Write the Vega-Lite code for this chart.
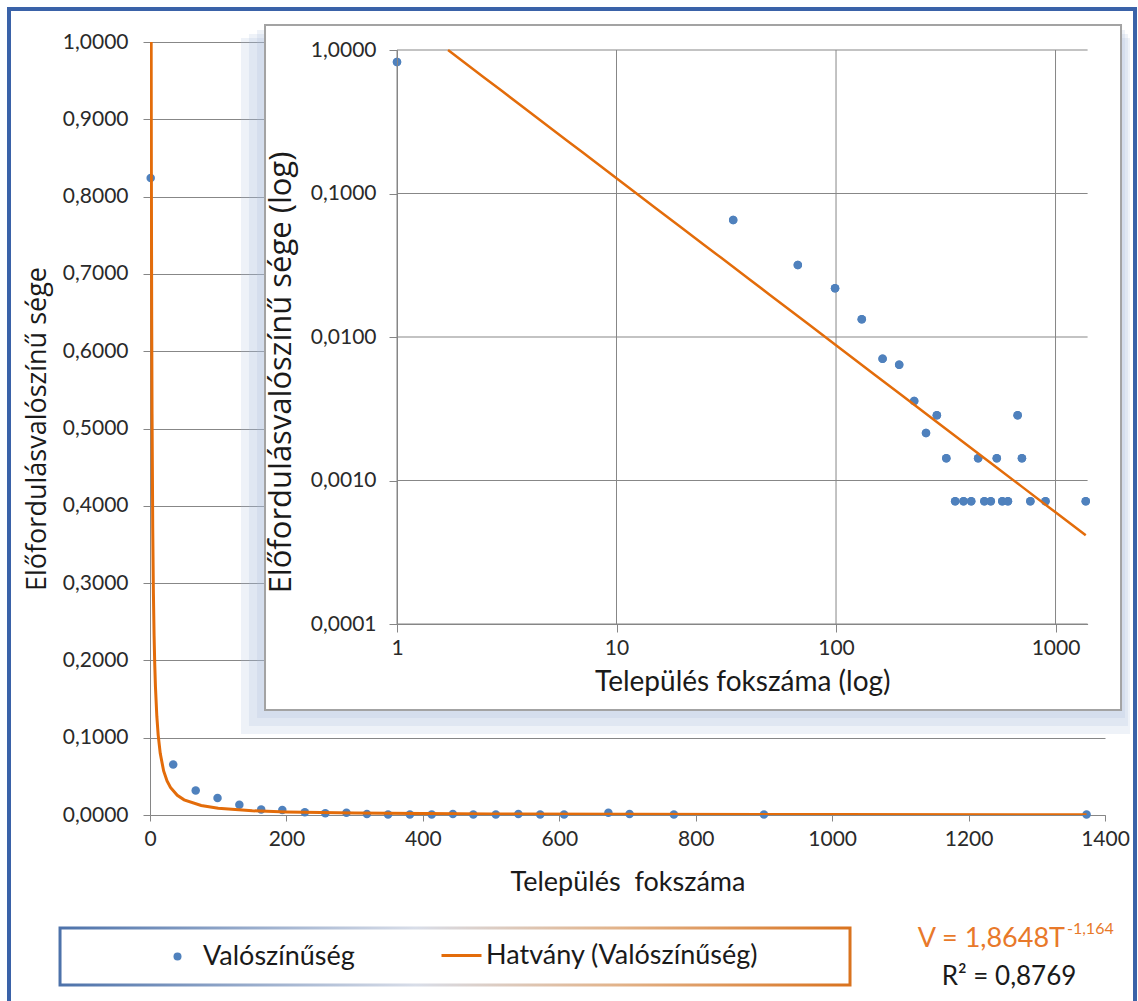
{
  "$schema": "https://vega.github.io/schema/vega-lite/v6.json",
  "width": 955,
  "height": 773,
  "autosize": {"type": "none"},
  "padding": {"left": 150, "top": 42, "right": 33, "bottom": 186},
  "background": "#ffffff",
  "config": {
    "font": "Lato",
    "view": {"stroke": null},
    "locale": {"number": {"decimal": ",", "thousands": " ", "grouping": [3], "currency": ["", ""]}},
    "axis": {"labelFlush": false, "labelOverlap": false, "labelFont": "Lato", "titleFont": "Lato", "labelColor": "#2a2a2a", "titleColor": "#1a1a1a", "titleFontWeight": "normal", "domainColor": "#868686", "tickColor": "#868686", "gridColor": "#878787"},
    "legend": {"labelFont": "Lato", "labelColor": "#1a1a1a", "labelLimit": 500}
  },
  "datasets": {
    "pts": [
      {"deg": 1, "p": 0.824, "series": "Valószínűség"},
      {"deg": 34, "p": 0.0654, "series": "Valószínűség"},
      {"deg": 67, "p": 0.0318, "series": "Valószínűség"},
      {"deg": 99, "p": 0.0219, "series": "Valószínűség"},
      {"deg": 131, "p": 0.0133, "series": "Valószínűség"},
      {"deg": 163, "p": 0.00706, "series": "Valószínűség"},
      {"deg": 194, "p": 0.0064, "series": "Valószínűség"},
      {"deg": 227, "p": 0.00358, "series": "Valószínűség"},
      {"deg": 257, "p": 0.00214, "series": "Valószínűség"},
      {"deg": 288, "p": 0.00285, "series": "Valószínűség"},
      {"deg": 318, "p": 0.00143, "series": "Valószínűség"},
      {"deg": 349, "p": 0.000716, "series": "Valószínűség"},
      {"deg": 381, "p": 0.000716, "series": "Valószínűség"},
      {"deg": 413, "p": 0.000716, "series": "Valószínűség"},
      {"deg": 444, "p": 0.00143, "series": "Valószínűség"},
      {"deg": 474, "p": 0.000716, "series": "Valószínűség"},
      {"deg": 507, "p": 0.000716, "series": "Valószínűség"},
      {"deg": 540, "p": 0.00143, "series": "Valószínűség"},
      {"deg": 572, "p": 0.000716, "series": "Valószínűség"},
      {"deg": 607, "p": 0.000716, "series": "Valószínűség"},
      {"deg": 672, "p": 0.00285, "series": "Valószínűség"},
      {"deg": 703, "p": 0.00143, "series": "Valószínűség"},
      {"deg": 768, "p": 0.000716, "series": "Valószínűség"},
      {"deg": 900, "p": 0.000716, "series": "Valószínűség"},
      {"deg": 1373, "p": 0.000716, "series": "Valószínűség"}
    ],
    "trend": [
      {"deg": 1.708, "p": 1.0, "series": "Hatvány (Valószínűség)"},
      {"deg": 2, "p": 0.8323, "series": "Hatvány (Valószínűség)"},
      {"deg": 2.5, "p": 0.6418, "series": "Hatvány (Valószínűség)"},
      {"deg": 3, "p": 0.5192, "series": "Hatvány (Valószínűség)"},
      {"deg": 4, "p": 0.3714, "series": "Hatvány (Valószínűség)"},
      {"deg": 5, "p": 0.2865, "series": "Hatvány (Valószínűség)"},
      {"deg": 6, "p": 0.2317, "series": "Hatvány (Valószínűség)"},
      {"deg": 7, "p": 0.1936, "series": "Hatvány (Valószínűség)"},
      {"deg": 8, "p": 0.1657, "series": "Hatvány (Valószínűség)"},
      {"deg": 10, "p": 0.1278, "series": "Hatvány (Valószínűség)"},
      {"deg": 12, "p": 0.1034, "series": "Hatvány (Valószínűség)"},
      {"deg": 15, "p": 0.0797, "series": "Hatvány (Valószínűség)"},
      {"deg": 20, "p": 0.057, "series": "Hatvány (Valószínűség)"},
      {"deg": 25, "p": 0.04399, "series": "Hatvány (Valószínűség)"},
      {"deg": 30, "p": 0.0356, "series": "Hatvány (Valószínűség)"},
      {"deg": 40, "p": 0.02546, "series": "Hatvány (Valószínűség)"},
      {"deg": 50, "p": 0.01964, "series": "Hatvány (Valószínűség)"},
      {"deg": 75, "p": 0.01225, "series": "Hatvány (Valószínűség)"},
      {"deg": 100, "p": 0.00877, "series": "Hatvány (Valószínűség)"},
      {"deg": 150, "p": 0.005467, "series": "Hatvány (Valószínűség)"},
      {"deg": 200, "p": 0.003912, "series": "Hatvány (Valószínűség)"},
      {"deg": 300, "p": 0.002439, "series": "Hatvány (Valószínűség)"},
      {"deg": 500, "p": 0.001346, "series": "Hatvány (Valószínűség)"},
      {"deg": 700, "p": 0.00091, "series": "Hatvány (Valószínűség)"},
      {"deg": 1000, "p": 0.0006, "series": "Hatvány (Valószínűség)"},
      {"deg": 1373, "p": 0.000415, "series": "Hatvány (Valószínűség)"}
    ],
    "gridx": [{"g": 1}, {"g": 10}, {"g": 100}, {"g": 1000}],
    "gridy": [{"g": 0.0001}, {"g": 0.001}, {"g": 0.01}, {"g": 0.1}, {"g": 1}],
    "one": [{"k": 1}]
  },
  "layer": [
    {
      "layer": [
        {
          "data": {"name": "one"},
          "mark": {"type": "rect", "filled": false, "stroke": "#3a62a8", "strokeWidth": 4},
          "encoding": {
            "x": {"datum": -206.7, "type": "quantitative", "scale": {"domain": [0, 1400], "nice": false, "zero": false}},
            "x2": {"datum": 1444},
            "y": {"datum": 1.0427, "type": "quantitative", "scale": {"domain": [0, 1], "nice": false, "zero": false}},
            "y2": {"datum": -0.2523}
          }
        },
        {
          "data": {"name": "pts"},
          "mark": {"type": "point", "filled": true, "size": 72, "opacity": 1, "strokeWidth": 0},
          "encoding": {
            "x": {"field": "deg", "type": "quantitative", "scale": {"domain": [0, 1400], "nice": false, "zero": false},
              "axis": {"orient": "bottom", "values": [0, 200, 400, 600, 800, 1000, 1200, 1400], "format": "d", "grid": false, "tickSize": 6, "labelFontSize": 21, "labelPadding": 7, "title": "Település \u00a0fokszáma", "titleFontSize": 27, "titlePadding": 20}},
            "y": {"field": "p", "type": "quantitative", "scale": {"domain": [0, 1], "nice": false, "zero": false},
              "axis": {"orient": "left", "values": [0, 0.1, 0.2, 0.3, 0.4, 0.5, 0.6, 0.7, 0.8, 0.9, 1], "format": ".4f", "grid": true, "tickSize": 7, "labelFontSize": 21, "labelPadding": 15, "title": "Előfordulásvalószínű sége", "titleFont": "Open Sans", "titleFontSize": 27, "titlePadding": 11}},
            "fill": {"field": "series", "type": "nominal", "scale": {"domain": ["Valószínűség"], "range": ["#4F81BD"]},
              "legend": {"orient": "none", "legendX": 14, "legendY": 901, "title": null, "symbolType": "circle", "symbolSize": 64, "labelFontSize": 27, "labelOffset": 12}}
          }
        },
        {
          "data": {"name": "trend"},
          "mark": {"type": "line", "strokeWidth": 3, "clip": true},
          "encoding": {
            "x": {"field": "deg", "type": "quantitative", "scale": {"domain": [0, 1400], "nice": false, "zero": false}},
            "y": {"field": "p", "type": "quantitative", "scale": {"domain": [0, 1], "nice": false, "zero": false}},
            "stroke": {"field": "series", "type": "nominal", "scale": {"domain": ["Hatvány (Valószínűség)"], "range": ["#E36C0A"]},
              "legend": {"orient": "none", "legendX": 290, "legendY": 892, "title": null, "symbolType": "stroke", "symbolSize": 1600, "symbolStrokeWidth": 3, "labelFontSize": 27, "labelOffset": 3}}
          }
        },
        {
          "data": {"name": "one"},
          "mark": {"type": "rect", "fill": "#a9bddc", "opacity": 0.2},
          "encoding": {
            "x": {"datum": 133.4, "type": "quantitative", "scale": {"domain": [0, 1400], "nice": false, "zero": false}},
            "x2": {"datum": 1436.6},
            "y": {"datum": 1.0052, "type": "quantitative", "scale": {"domain": [0, 1], "nice": false, "zero": false}},
            "y2": {"datum": 0.1048}
          }
        },
        {
          "data": {"name": "one"},
          "mark": {"type": "rect", "fill": "#a9bddc", "opacity": 0.2},
          "encoding": {
            "x": {"datum": 145.1, "type": "quantitative", "scale": {"domain": [0, 1400], "nice": false, "zero": false}},
            "x2": {"datum": 1433.7},
            "y": {"datum": 1.0103, "type": "quantitative", "scale": {"domain": [0, 1], "nice": false, "zero": false}},
            "y2": {"datum": 0.1151}
          }
        },
        {
          "data": {"name": "one"},
          "mark": {"type": "rect", "fill": "#a9bddc", "opacity": 0.2},
          "encoding": {
            "x": {"datum": 156.9, "type": "quantitative", "scale": {"domain": [0, 1400], "nice": false, "zero": false}},
            "x2": {"datum": 1429.3},
            "y": {"datum": 1.0155, "type": "quantitative", "scale": {"domain": [0, 1], "nice": false, "zero": false}},
            "y2": {"datum": 0.1255}
          }
        },
        {
          "data": {"name": "one"},
          "mark": {"type": "rect", "fill": "#ffffff", "stroke": "#a3a3a3", "strokeWidth": 2},
          "encoding": {
            "x": {"datum": 168.6, "type": "quantitative", "scale": {"domain": [0, 1400], "nice": false, "zero": false}},
            "x2": {"datum": 1423.5},
            "y": {"datum": 1.022, "type": "quantitative", "scale": {"domain": [0, 1], "nice": false, "zero": false}},
            "y2": {"datum": 0.1358}
          }
        },
        {
          "data": {"name": "one"},
          "mark": {"type": "rect", "fill": "#ffffff", "strokeWidth": 3,
            "stroke": {"gradient": "linear", "x1": 0, "y1": 0, "x2": 1, "y2": 0, "stops": [{"offset": 0, "color": "#4d72aa"}, {"offset": 0.45, "color": "#d8dde8"}, {"offset": 0.7, "color": "#e2b48c"}, {"offset": 1, "color": "#d9731f"}]}},
          "encoding": {
            "x": {"datum": -131.9, "type": "quantitative", "scale": {"domain": [0, 1400], "nice": false, "zero": false}},
            "x2": {"datum": 1026.2},
            "y": {"datum": -0.1462, "type": "quantitative", "scale": {"domain": [0, 1], "nice": false, "zero": false}},
            "y2": {"datum": -0.2199}
          }
        },
        {
          "data": {"name": "one"},
          "mark": {"type": "text", "text": "V = 1,8648T", "align": "right", "baseline": "alphabetic", "fontSize": 27, "color": "#E8792A"},
          "encoding": {
            "x": {"datum": 1341.4, "type": "quantitative", "scale": {"domain": [0, 1400], "nice": false, "zero": false}},
            "y": {"datum": -0.1708, "type": "quantitative", "scale": {"domain": [0, 1], "nice": false, "zero": false}}
          }
        },
        {
          "data": {"name": "one"},
          "mark": {"type": "text", "text": "-1,164", "align": "left", "baseline": "alphabetic", "fontSize": 16, "color": "#E8792A"},
          "encoding": {
            "x": {"datum": 1344.3, "type": "quantitative", "scale": {"domain": [0, 1400], "nice": false, "zero": false}},
            "y": {"datum": -0.154, "type": "quantitative", "scale": {"domain": [0, 1], "nice": false, "zero": false}}
          }
        },
        {
          "data": {"name": "one"},
          "mark": {"type": "text", "text": "R² = 0,8769", "align": "center", "baseline": "alphabetic", "fontSize": 26, "color": "#1a1a1a"},
          "encoding": {
            "x": {"datum": 1259.3, "type": "quantitative", "scale": {"domain": [0, 1400], "nice": false, "zero": false}},
            "y": {"datum": -0.2199, "type": "quantitative", "scale": {"domain": [0, 1], "nice": false, "zero": false}}
          }
        }
      ]
    },
    {
      "layer": [
        {
          "data": {"name": "pts"},
          "mark": {"type": "point", "filled": true, "size": 72, "opacity": 1, "strokeWidth": 0, "color": "#4F81BD"},
          "encoding": {
            "x": {"field": "deg", "type": "quantitative", "scale": {"type": "log", "domain": [1, 1400], "range": [247, 937.6], "nice": false, "zero": false},
              "axis": {"orient": "bottom", "offset": -191, "values": [1, 10, 100, 1000], "format": "d", "grid": false, "tickSize": 8, "labelFontSize": 21, "labelPadding": 5, "title": "Település fokszáma (log)", "titleFontSize": 28, "titlePadding": 10, "zindex": 1}},
            "y": {"field": "p", "type": "quantitative", "scale": {"type": "log", "domain": [0.0001, 1], "range": [582, 8], "nice": false, "zero": false},
              "axis": {"orient": "left", "offset": -247, "values": [0.0001, 0.001, 0.01, 0.1, 1], "format": ".4f", "grid": false, "tickSize": 8, "labelFontSize": 21, "labelPadding": 13, "title": "Előfordulásvalószínű sége (log)", "titleFont": "Open Sans", "titleFontSize": 31, "titlePadding": 13, "titleY": 330, "zindex": 1}}
          }
        },
        {
          "data": {"name": "gridx"},
          "mark": {"type": "rule", "color": "#878787", "strokeWidth": 1},
          "encoding": {
            "x": {"field": "g", "type": "quantitative", "scale": {"type": "log", "domain": [1, 1400], "range": [247, 937.6], "nice": false, "zero": false}},
            "y": {"datum": 0.0001, "type": "quantitative", "scale": {"type": "log", "domain": [0.0001, 1], "range": [582, 8], "nice": false, "zero": false}},
            "y2": {"datum": 1}
          }
        },
        {
          "data": {"name": "gridy"},
          "mark": {"type": "rule", "color": "#878787", "strokeWidth": 1},
          "encoding": {
            "y": {"field": "g", "type": "quantitative", "scale": {"type": "log", "domain": [0.0001, 1], "range": [582, 8], "nice": false, "zero": false}},
            "x": {"datum": 1, "type": "quantitative", "scale": {"type": "log", "domain": [1, 1400], "range": [247, 937.6], "nice": false, "zero": false}},
            "x2": {"datum": 1400}
          }
        },
        {
          "data": {"name": "pts"},
          "mark": {"type": "point", "filled": true, "size": 72, "opacity": 1, "strokeWidth": 0, "color": "#4F81BD"},
          "encoding": {
            "x": {"field": "deg", "type": "quantitative", "scale": {"type": "log", "domain": [1, 1400], "range": [247, 937.6], "nice": false, "zero": false}},
            "y": {"field": "p", "type": "quantitative", "scale": {"type": "log", "domain": [0.0001, 1], "range": [582, 8], "nice": false, "zero": false}}
          }
        },
        {
          "data": {"name": "trend"},
          "mark": {"type": "line", "strokeWidth": 2.5, "color": "#E36C0A"},
          "encoding": {
            "x": {"field": "deg", "type": "quantitative", "scale": {"type": "log", "domain": [1, 1400], "range": [247, 937.6], "nice": false, "zero": false}},
            "y": {"field": "p", "type": "quantitative", "scale": {"type": "log", "domain": [0.0001, 1], "range": [582, 8], "nice": false, "zero": false}}
          }
        }
      ]
    }
  ],
  "resolve": {"scale": {"x": "independent", "y": "independent"}}
}
